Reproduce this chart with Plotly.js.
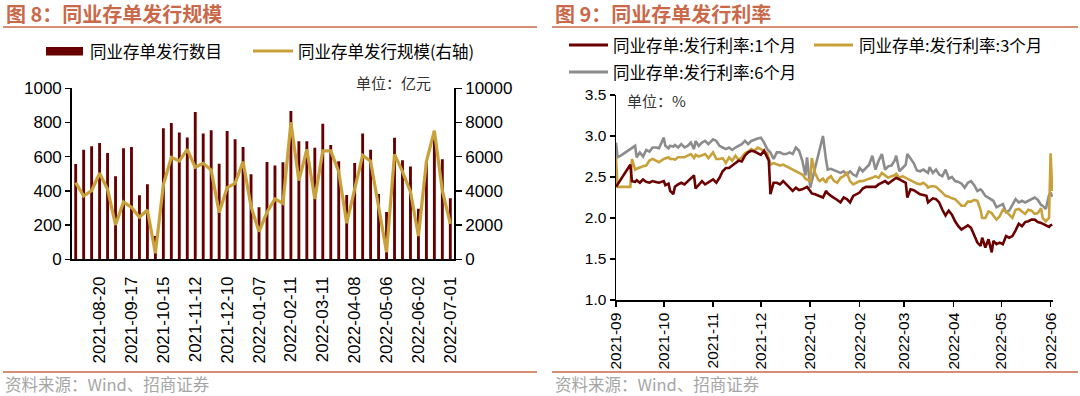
<!DOCTYPE html>
<html><head><meta charset="utf-8">
<script src="https://cdn.plot.ly/plotly-3.0.1.min.js"></script>
<style>html,body{margin:0;padding:0;background:#fff}#chart{width:1080px;height:396px}</style>
</head><body><div id="chart"></div>
<script>
// ---- Figure 8: weekly NCD issuance ----
const weeks = ['2021-07-30','2021-08-06','2021-08-13','2021-08-20','2021-08-27','2021-09-03','2021-09-10','2021-09-17','2021-09-24','2021-09-30','2021-10-08','2021-10-15','2021-10-22','2021-10-29','2021-11-05','2021-11-12','2021-11-19','2021-11-26','2021-12-03','2021-12-10','2021-12-17','2021-12-24','2021-12-31','2022-01-07','2022-01-14','2022-01-21','2022-01-28','2022-02-11','2022-02-18','2022-02-25','2022-03-04','2022-03-11','2022-03-18','2022-03-25','2022-04-01','2022-04-08','2022-04-15','2022-04-22','2022-04-29','2022-05-06','2022-05-13','2022-05-20','2022-05-27','2022-06-02','2022-06-10','2022-06-17','2022-06-24','2022-07-01'];
const issueCount = [557,641,661,680,622,485,649,657,374,439,136,766,797,741,713,862,735,754,559,750,702,657,497,304,569,548,567,867,690,690,653,793,669,573,376,563,735,641,382,277,711,579,542,296,575,750,585,357];
const issueScale = [4480,3700,4020,5030,4090,2010,3350,3040,2460,2880,350,4350,5960,5750,6430,5380,5610,5220,2730,4190,4440,5710,3080,1620,2750,3530,3270,8010,4600,6430,3530,6340,6340,5130,2110,4150,6080,5730,3100,420,6140,5130,3960,1360,5710,7520,4020,2070];
const weekTicks = ['2021-08-20','2021-09-17','2021-10-15','2021-11-12','2021-12-10','2022-01-07','2022-02-11','2022-03-11','2022-04-08','2022-05-06','2022-06-02','2022-07-01'];

// ---- Figure 9: NCD issuance rates ----
const rateDates = ['2021-09-01','2021-09-02','2021-09-04','2021-09-07','2021-09-10','2021-09-11','2021-09-13','2021-09-14','2021-09-16','2021-09-18','2021-09-20','2021-09-22','2021-09-24','2021-09-26','2021-09-28','2021-10-01','2021-10-02','2021-10-04','2021-10-05','2021-10-07','2021-10-08','2021-10-10','2021-10-12','2021-10-14','2021-10-16','2021-10-18','2021-10-20','2021-10-21','2021-10-23','2021-10-25','2021-10-27','2021-10-29','2021-11-01','2021-11-03','2021-11-05','2021-11-07','2021-11-09','2021-11-11','2021-11-13','2021-11-15','2021-11-17','2021-11-19','2021-11-21','2021-11-23','2021-11-25','2021-11-27','2021-11-29','2021-12-01','2021-12-03','2021-12-05','2021-12-06','2021-12-07','2021-12-09','2021-12-11','2021-12-13','2021-12-15','2021-12-17','2021-12-19','2021-12-21','2021-12-23','2021-12-25','2021-12-27','2021-12-29','2021-12-30','2022-01-01','2022-01-02','2022-01-04','2022-01-06','2022-01-07','2022-01-09','2022-01-11','2022-01-12','2022-01-14','2022-01-16','2022-01-18','2022-01-20','2022-01-22','2022-01-24','2022-01-26','2022-01-28','2022-01-30','2022-02-01','2022-02-03','2022-02-05','2022-02-07','2022-02-09','2022-02-11','2022-02-13','2022-02-15','2022-02-17','2022-02-19','2022-02-21','2022-02-23','2022-02-24','2022-02-26','2022-02-28','2022-03-02','2022-03-03','2022-03-05','2022-03-07','2022-03-09','2022-03-11','2022-03-13','2022-03-15','2022-03-16','2022-03-17','2022-03-19','2022-03-21','2022-03-23','2022-03-25','2022-03-27','2022-03-29','2022-03-31','2022-04-02','2022-04-04','2022-04-06','2022-04-08','2022-04-10','2022-04-12','2022-04-14','2022-04-16','2022-04-18','2022-04-19','2022-04-21','2022-04-23','2022-04-25','2022-04-26','2022-04-28','2022-04-30','2022-05-02','2022-05-04','2022-05-06','2022-05-08','2022-05-10','2022-05-12','2022-05-14','2022-05-16','2022-05-18','2022-05-20','2022-05-22','2022-05-24','2022-05-26','2022-05-27','2022-05-29','2022-05-31','2022-06-01','2022-06-02'];
const rate1M = [2.38,null,null,null,2.65,2.45,2.44,2.46,2.43,2.47,2.44,2.43,2.45,2.44,2.43,2.45,2.40,2.42,2.33,2.29,2.38,2.41,2.43,2.41,2.45,2.49,2.52,2.36,2.41,2.45,2.41,2.43,2.47,2.43,2.49,2.57,2.61,2.61,2.64,2.67,2.70,2.69,2.76,2.80,2.82,2.81,2.79,2.77,2.82,2.74,2.70,2.29,2.43,2.43,2.41,2.45,2.41,2.37,2.33,2.37,2.34,2.35,2.37,2.38,2.33,2.30,2.29,2.27,2.26,2.25,2.33,2.30,2.27,2.25,2.22,2.19,2.25,2.23,2.19,2.27,2.29,2.31,2.36,2.38,2.38,2.38,2.38,2.41,2.43,2.45,2.42,2.45,2.47,2.49,2.47,2.45,2.43,2.25,2.35,2.34,2.31,2.29,2.28,2.27,2.19,2.21,2.24,2.23,2.19,2.10,2.03,2.09,2.04,1.96,1.90,1.86,1.88,1.91,1.88,1.80,1.70,1.66,1.76,1.64,1.74,1.58,1.72,1.68,1.70,1.68,1.78,1.76,1.78,1.85,1.93,1.90,1.95,1.96,1.98,1.98,1.95,1.94,1.93,1.92,1.89,1.91,1.92];
const rate3M = [2.74,2.38,2.38,2.38,2.38,2.72,2.59,2.60,2.62,2.63,2.64,2.70,2.72,2.70,2.68,2.72,2.73,2.74,2.72,2.72,2.71,2.74,2.74,2.74,2.76,2.78,2.73,2.77,2.75,2.77,2.78,2.73,2.80,2.72,2.72,2.73,2.67,2.74,2.70,2.76,2.71,2.74,2.79,2.81,2.84,2.82,2.86,2.84,2.82,2.79,2.72,2.65,2.67,2.65,2.64,2.65,2.63,2.61,2.59,2.57,2.55,2.53,2.48,2.47,2.45,2.73,2.55,2.47,2.45,2.48,2.43,2.48,2.51,2.45,2.43,2.49,2.51,2.55,2.45,2.41,2.43,2.45,2.45,2.47,2.48,2.49,2.51,2.49,2.55,2.52,2.49,2.51,2.52,2.54,2.49,2.51,2.49,2.47,2.45,2.43,2.42,2.41,2.43,2.40,2.37,2.38,2.39,2.38,2.35,2.31,2.27,2.26,2.24,2.23,2.19,2.15,2.15,2.20,2.20,2.22,2.21,2.10,2.00,2.00,2.08,2.06,2.03,1.98,2.02,2.10,2.08,2.04,2.00,2.10,2.11,2.08,2.05,2.10,2.09,2.05,2.06,2.12,2.00,1.96,2.00,2.79,2.33];
const rate6M = [2.92,2.74,2.76,2.80,2.83,2.85,2.88,2.74,2.80,2.75,2.83,2.81,2.86,2.86,2.85,2.98,2.88,2.85,2.88,2.87,2.89,2.86,2.90,2.86,2.88,2.92,2.84,2.94,2.88,2.92,2.94,2.90,2.96,2.94,2.88,2.86,2.84,2.86,2.83,2.86,2.88,2.90,2.94,2.90,2.94,2.96,2.97,2.98,2.92,2.84,2.82,2.80,2.72,2.80,2.80,2.78,2.78,2.80,2.78,2.86,2.82,2.70,2.52,2.74,2.37,2.45,2.62,2.75,2.85,3.00,2.70,2.59,2.60,2.58,2.57,2.55,2.57,2.53,2.57,2.53,2.51,2.61,2.57,2.61,2.65,2.76,2.59,2.70,2.78,2.59,2.63,2.64,2.70,2.76,2.57,2.61,2.65,2.78,2.72,2.67,2.58,2.57,2.59,2.57,2.55,2.62,2.55,2.59,2.53,2.51,2.59,2.48,2.50,2.45,2.44,2.42,2.37,2.43,2.45,2.40,2.33,2.35,2.33,2.27,2.25,2.22,2.21,2.13,2.15,2.17,2.07,2.09,2.16,2.23,2.19,2.21,2.19,2.21,2.22,2.25,2.22,2.16,2.15,2.11,2.28,2.31,2.26];
const monthTicks = ['2021-09-01','2021-10-01','2021-11-01','2021-12-01','2022-01-01','2022-02-01','2022-03-01','2022-04-01','2022-05-01','2022-06-01'];

// ---- styling ----
const W = 1080, H = 396;
const px = x => x / W, py = y => 1 - y / H;
const BAR = '#660000', GOLD = '#C9A13A', GRAY = '#8C8C8C', RED = '#6B0000';
const TITLE = '#C9694A', SRC = '#A6A6A6';
const FONT = 'Liberation Sans, Arial, Noto Sans CJK SC, sans-serif';
const CJK = 'Noto Sans CJK SC, Liberation Sans, sans-serif';

const traces = [
  {type:'bar', x:weeks, y:issueCount, xaxis:'x', yaxis:'y', marker:{color:BAR}, name:'同业存单发行数目', showlegend:false},
  {type:'scatter', mode:'lines', x:weeks, y:issueScale, xaxis:'x', yaxis:'y2', line:{color:GOLD, width:3.2}, name:'同业存单发行规模(右轴)', showlegend:false},
  {type:'scatter', mode:'lines', x:rateDates, y:rate6M, xaxis:'x2', yaxis:'y3', line:{color:GRAY, width:2.6}, connectgaps:true, name:'同业存单:发行利率:6个月', showlegend:false},
  {type:'scatter', mode:'lines', x:rateDates, y:rate3M, xaxis:'x2', yaxis:'y3', line:{color:GOLD, width:2.6}, connectgaps:true, name:'同业存单:发行利率:3个月', showlegend:false},
  {type:'scatter', mode:'lines', x:rateDates, y:rate1M, xaxis:'x2', yaxis:'y3', line:{color:RED, width:2.6}, connectgaps:true, name:'同业存单:发行利率:1个月', showlegend:false}
];

const axBase = {showline:true, linecolor:'#000', linewidth:1.5, showgrid:false, zeroline:false, fixedrange:true};
const layout = {
  width:W, height:H, margin:{l:0,r:0,t:0,b:0}, paper_bgcolor:'#fff', plot_bgcolor:'#fff',
  font:{family:FONT, color:'#000'}, bargap:0.64, showlegend:false,
  xaxis: Object.assign({}, axBase, {domain:[px(71.7), px(454.3)], anchor:'y', type:'category',
    tickmode:'array', tickvals:weekTicks, ticktext:weekTicks, tickangle:-90, ticks:'',
    tickfont:{size:17, family:FONT}, ticklabelstandoff:9}),
  yaxis: Object.assign({}, axBase, {domain:[py(259.3), py(88.3)], anchor:'x', range:[0,1000], dtick:200, tickformat:'d',
    ticks:'outside', ticklen:5, tickwidth:1.5, tickcolor:'#000', tickfont:{size:17, family:FONT}}),
  yaxis2: Object.assign({}, axBase, {overlaying:'y', side:'right', anchor:'x', range:[0,10000], dtick:2000, tickformat:'d',
    ticks:'outside', ticklen:6, tickwidth:1.5, tickcolor:'#000', tickfont:{size:17, family:FONT}}),
  xaxis2: Object.assign({}, axBase, {domain:[px(616), px(1053)], anchor:'y3', type:'date',
    range:['2021-09-01','2022-06-02 12:00'], tickmode:'array', tickvals:monthTicks, tickformat:'%Y-%m',
    tickangle:-90, ticks:'outside', ticklen:5, tickwidth:1.5, tickcolor:'#000', tickfont:{size:15.5, family:FONT}}),
  yaxis3: Object.assign({}, axBase, {domain:[py(300), py(95)], anchor:'x2', range:[1,3.5], dtick:0.5, tickformat:'.1f',
    ticks:'outside', ticklen:5, tickwidth:1.5, tickcolor:'#000', tickfont:{size:15.5, family:FONT}}),
  shapes: [
    {type:'line', xref:'paper', yref:'paper', x0:px(3), x1:px(537), y0:py(27), y1:py(27), line:{color:TITLE, width:1.6}},
    {type:'line', xref:'paper', yref:'paper', x0:px(552), x1:px(1078), y0:py(27), y1:py(27), line:{color:TITLE, width:1.6}},
    {type:'line', xref:'paper', yref:'paper', x0:px(3), x1:px(537), y0:py(372), y1:py(372), line:{color:TITLE, width:1.6}},
    {type:'line', xref:'paper', yref:'paper', x0:px(552), x1:px(1078), y0:py(372), y1:py(372), line:{color:TITLE, width:1.6}},
    {type:'rect', xref:'paper', yref:'paper', x0:px(46), x1:px(83), y0:py(55.5), y1:py(47), fillcolor:BAR, line:{width:0}},
    {type:'line', xref:'paper', yref:'paper', x0:px(253), x1:px(293), y0:py(51), y1:py(51), line:{color:GOLD, width:3}},
    {type:'line', xref:'paper', yref:'paper', x0:px(569), x1:px(608), y0:py(45), y1:py(45), line:{color:RED, width:3}},
    {type:'line', xref:'paper', yref:'paper', x0:px(814), x1:px(853), y0:py(45), y1:py(45), line:{color:GOLD, width:3}},
    {type:'line', xref:'paper', yref:'paper', x0:px(569), x1:px(608), y0:py(72), y1:py(72), line:{color:GRAY, width:3}}
  ],
  annotations: [
    {text:'<b>图 8：同业存单发行规模</b>', x:px(4), y:py(13), font:{size:20, color:TITLE, family:CJK}},
    {text:'<b>图 9：同业存单发行利率</b>', x:px(553), y:py(13), font:{size:20, color:TITLE, family:CJK}},
    {text:'同业存单发行数目', x:px(88), y:py(51), font:{size:16.5, family:CJK}},
    {text:'同业存单发行规模(右轴)', x:px(296), y:py(51), font:{size:16.5, family:CJK}},
    {text:'单位：亿元', x:px(354), y:py(83), font:{size:15, family:CJK, color:'#333'}},
    {text:'同业存单:发行利率:1个月', x:px(611), y:py(45), font:{size:16.5, family:CJK}},
    {text:'同业存单:发行利率:3个月', x:px(857), y:py(45), font:{size:16.5, family:CJK}},
    {text:'同业存单:发行利率:6个月', x:px(611), y:py(72), font:{size:16.5, family:CJK}},
    {text:'单位：%', x:px(625), y:py(100), font:{size:15, family:CJK, color:'#333'}},
    {text:'资料来源：Wind、招商证券', x:px(3), y:py(384), font:{size:16.5, family:CJK, color:SRC}},
    {text:'资料来源：Wind、招商证券', x:px(553), y:py(384), font:{size:16.5, family:CJK, color:SRC}}
  ].map(a => Object.assign({xref:'paper', yref:'paper', xanchor:'left', yanchor:'middle', showarrow:false}, a))
};

Plotly.newPlot('chart', traces, layout, {staticPlot:true, displayModeBar:false});
</script>
</body></html>
